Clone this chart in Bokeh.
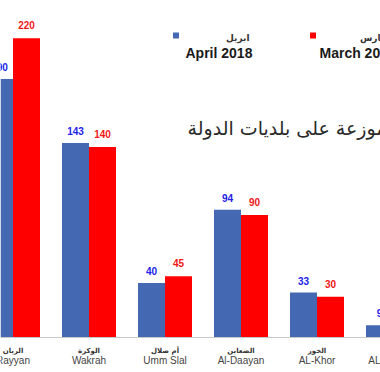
from bokeh.plotting import figure
from bokeh.models import ColumnDataSource, Range1d
from bokeh.embed import file_html
from bokeh.resources import INLINE
from bokeh.core.properties import value

# ---- data ----
cats_en = ["Rayyan", "Wakrah", "Umm Slal", "Al-Daayan", "AL-Khor", "AL-Shamal"]
cats_ar = ["الريان", "الوكرة", "أم صلال", "الضعاين", "الخور", "الشمال"]
april_2018 = [190, 143, 40, 94, 33, 9]
march_2018 = [220, 140, 45, 90, 30, 10]
series_en = ["April  2018", "March  2018"]
series_ar = ["ابريل", "مارس"]
title_ar = "موزعة على بلديات الدولة"

BLUE = "#4468b2"
RED = "#ff0000"
BLUE_TXT = "#2323e6"
RED_TXT = "#f01818"

W, H = 380, 372
GROUP_PX = 76.0
X0_PX = 12.5
BASE_PX = 337.0
PX_PER_UNIT = 1.36

def px2x(px):
    return (px - X0_PX) / GROUP_PX

def py2y(py):
    return (BASE_PX - py) / PX_PER_UNIT

p = figure(width=W, height=H, output_backend="svg", toolbar_location=None,
           x_range=Range1d(px2x(0), px2x(W)), y_range=Range1d(py2y(H), py2y(0)),
           min_border=0, min_border_left=0, min_border_right=0,
           min_border_top=0, min_border_bottom=0)
p.axis.visible = False
p.grid.visible = False
p.outline_line_color = None
p.background_fill_color = "white"
p.border_fill_color = "white"

idx = list(range(len(cats_en)))
bw = 27 / GROUP_PX
off = bw / 2
src = ColumnDataSource(dict(
    xb=[i - off for i in idx], xr=[i + off for i in idx],
    apr=april_2018, mar=march_2018,
    apr_t=[str(v) for v in april_2018], mar_t=[str(v) for v in march_2018],
    x=idx, en=cats_en, ar=cats_ar,
))

p.vbar(x="xb", top="apr", width=bw, bottom=0, source=src,
       fill_color=BLUE, line_color=None)
p.vbar(x="xr", top="mar", width=bw, bottom=0, source=src,
       fill_color=RED, line_color=None)

# baseline
p.segment(x0=px2x(0), x1=px2x(W), y0=0, y1=0, line_color="#c8c8c8", line_width=1)

# value labels
p.text(x="xb", y="apr", text="apr_t", source=src, text_align="center",
       text_baseline="middle", y_offset=-12, text_font=value("Liberation Sans"),
       text_font_style="bold", text_font_size="10px", text_color=BLUE_TXT)
p.text(x="xr", y="mar", text="mar_t", source=src, text_align="center",
       text_baseline="middle", y_offset=-13, text_font=value("Liberation Sans"),
       text_font_style="bold", text_font_size="10px", text_color=RED_TXT)

# category labels
p.text(x="x", y=0, text="ar", source=src, text_align="center",
       text_baseline="middle", y_offset=13, text_font=value("DejaVu Sans"),
       text_font_style="bold", text_font_size="7px", text_color="#333333")
p.text(x="x", y=0, text="en", source=src, text_align="center",
       text_baseline="middle", y_offset=23, text_font=value("Liberation Sans"),
       text_font_size="10px", text_color="#444444")

# legend
leg_sq_px = [175.5, 312.5]
leg_txt_px = [185, 319]
leg_ar_px = [249, 386]
colors = [BLUE, RED]
p.scatter(x=[px2x(v) for v in leg_sq_px], y=[py2y(35)] * 2, marker="square",
          size=6, fill_color=colors, line_color=None)
p.text(x=[px2x(v) for v in leg_txt_px], y=[py2y(52)] * 2, text=series_en,
       text_align="left", text_baseline="middle", text_font=value("Liberation Sans"),
       text_font_style="bold", text_font_size="14px", text_color="#1a1a1a")
p.text(x=[px2x(v) for v in leg_ar_px], y=[py2y(37)] * 2, text=series_ar,
       text_align="right", text_baseline="middle", text_font=value("DejaVu Sans"),
       text_font_style="bold", text_font_size="9px", text_color="#333333")

# title (partly cut by the right edge)
p.text(x=[px2x(386)], y=[py2y(127)], text=[title_ar], text_align="right",
       text_baseline="middle", text_font=value("DejaVu Sans"),
       text_font_size="19px", text_color="#2a2a2a")

open("out.html", "w").write(file_html(p, INLINE))
